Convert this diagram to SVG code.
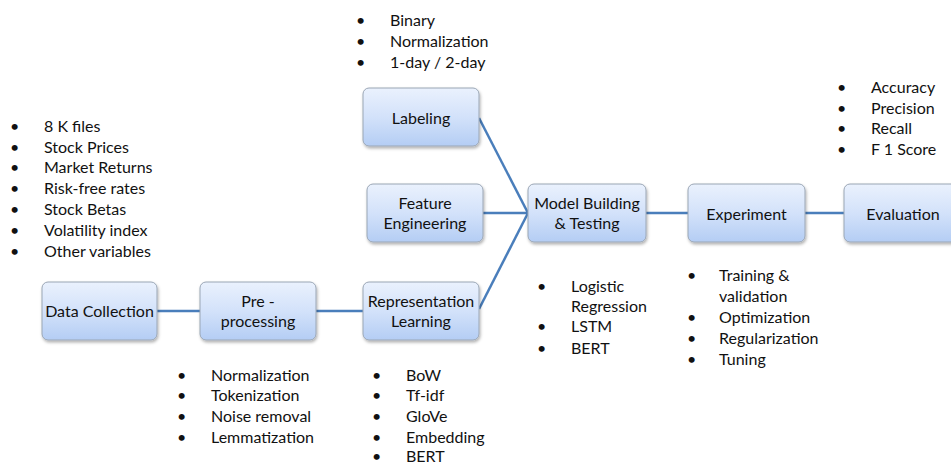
<svg xmlns="http://www.w3.org/2000/svg" width="951" height="466" viewBox="0 0 951 466">
<defs>
<linearGradient id="g" x1="0" y1="0" x2="0" y2="1">
<stop offset="0" stop-color="#eaf1fd"/>
<stop offset="0.5" stop-color="#d3e2fa"/>
<stop offset="1" stop-color="#b4cdf4"/>
</linearGradient>
<filter id="sh" x="-10%" y="-10%" width="130%" height="130%">
<feDropShadow dx="1" dy="2" stdDeviation="1.5" flood-color="#000" flood-opacity="0.3"/>
</filter>
</defs>
<style>
.box{fill:url(#g);stroke:#9aa6b5;stroke-width:1;filter:url(#sh)}
.t{font-family:Lato,"Liberation Sans",sans-serif;font-size:16px;fill:#111;text-anchor:middle}
.l{font-family:Lato,"Liberation Sans",sans-serif;font-size:16px;fill:#111}
.c{stroke:#4a7ebb;stroke-width:2.5;fill:none}
</style>
<rect width="951" height="466" fill="#fff"/>
<g id="connectors">
<line class="c" x1="157" y1="311" x2="200" y2="311"/>
<line class="c" x1="316" y1="311" x2="363" y2="311"/>
<line class="c" x1="479" y1="118" x2="528" y2="213"/>
<line class="c" x1="483" y1="213" x2="528" y2="213"/>
<line class="c" x1="479" y1="309" x2="528" y2="213"/>
<line class="c" x1="646" y1="213" x2="688" y2="213"/>
<line class="c" x1="805" y1="213" x2="844" y2="213"/>
</g>
<g id="data-collection">
<rect class="box" x="42" y="282" width="115" height="58" rx="6"/>
<text class="t" x="99.5" y="317">Data Collection</text>
</g>
<g id="preprocessing">
<rect class="box" x="200" y="282" width="116" height="58" rx="6"/>
<text class="t" x="258" y="307">Pre -</text>
<text class="t" x="258" y="327">processing</text>
</g>
<g id="labeling">
<rect class="box" x="363" y="88" width="116" height="58" rx="6"/>
<text class="t" x="421" y="124">Labeling</text>
</g>
<g id="feature-engineering">
<rect class="box" x="367" y="184" width="116" height="58" rx="6"/>
<text class="t" x="425" y="209">Feature</text>
<text class="t" x="425" y="229">Engineering</text>
</g>
<g id="representation-learning">
<rect class="box" x="363" y="282" width="116" height="58" rx="6"/>
<text class="t" x="421" y="307">Representation</text>
<text class="t" x="421" y="327">Learning</text>
</g>
<g id="model-building">
<rect class="box" x="528" y="184" width="118" height="58" rx="6"/>
<text class="t" x="587" y="209">Model Building</text>
<text class="t" x="587" y="229">&amp; Testing</text>
</g>
<g id="experiment">
<rect class="box" x="688" y="184" width="117" height="58" rx="6"/>
<text class="t" x="746.5" y="220">Experiment</text>
</g>
<g id="evaluation">
<rect class="box" x="844" y="184" width="118" height="58" rx="6"/>
<text class="t" x="903" y="220">Evaluation</text>
</g>
<g id="list-data">
<text class="l" x="10" y="132">•</text><text class="l" x="44" y="132">8 K files</text>
<text class="l" x="10" y="153">•</text><text class="l" x="44" y="153">Stock Prices</text>
<text class="l" x="10" y="173">•</text><text class="l" x="44" y="173">Market Returns</text>
<text class="l" x="10" y="194">•</text><text class="l" x="44" y="194">Risk-free rates</text>
<text class="l" x="10" y="215">•</text><text class="l" x="44" y="215">Stock Betas</text>
<text class="l" x="10" y="236">•</text><text class="l" x="44" y="236">Volatility index</text>
<text class="l" x="10" y="257">•</text><text class="l" x="44" y="257">Other variables</text>
</g>
<g id="list-labeling">
<text class="l" x="356" y="26">•</text><text class="l" x="390" y="26">Binary</text>
<text class="l" x="356" y="47">•</text><text class="l" x="390" y="47">Normalization</text>
<text class="l" x="356" y="68">•</text><text class="l" x="390" y="68">1-day / 2-day</text>
</g>
<g id="list-evaluation">
<text class="l" x="837" y="93">•</text><text class="l" x="871" y="93">Accuracy</text>
<text class="l" x="837" y="114">•</text><text class="l" x="871" y="114">Precision</text>
<text class="l" x="837" y="134">•</text><text class="l" x="871" y="134">Recall</text>
<text class="l" x="837" y="155">•</text><text class="l" x="871" y="155">F 1 Score</text>
</g>
<g id="list-model">
<text class="l" x="537" y="292">•</text><text class="l" x="571" y="292">Logistic</text>
<text class="l" x="571" y="312">Regression</text>
<text class="l" x="537" y="332">•</text><text class="l" x="571" y="332">LSTM</text>
<text class="l" x="537" y="354">•</text><text class="l" x="571" y="354">BERT</text>
</g>
<g id="list-experiment">
<text class="l" x="687" y="281">•</text><text class="l" x="719" y="281">Training &amp;</text>
<text class="l" x="719" y="302">validation</text>
<text class="l" x="687" y="323">•</text><text class="l" x="719" y="323">Optimization</text>
<text class="l" x="687" y="344">•</text><text class="l" x="719" y="344">Regularization</text>
<text class="l" x="687" y="365">•</text><text class="l" x="719" y="365">Tuning</text>
</g>
<g id="list-preprocessing">
<text class="l" x="177" y="381">•</text><text class="l" x="211" y="381">Normalization</text>
<text class="l" x="177" y="401">•</text><text class="l" x="211" y="401">Tokenization</text>
<text class="l" x="177" y="422">•</text><text class="l" x="211" y="422">Noise removal</text>
<text class="l" x="177" y="443">•</text><text class="l" x="211" y="443">Lemmatization</text>
</g>
<g id="list-representation">
<text class="l" x="372" y="381">•</text><text class="l" x="406" y="381">BoW</text>
<text class="l" x="372" y="401">•</text><text class="l" x="406" y="401">Tf-idf</text>
<text class="l" x="372" y="422">•</text><text class="l" x="406" y="422">GloVe</text>
<text class="l" x="372" y="443">•</text><text class="l" x="406" y="443">Embedding</text>
<text class="l" x="372" y="462">•</text><text class="l" x="406" y="462">BERT</text>
</g>
</svg>
